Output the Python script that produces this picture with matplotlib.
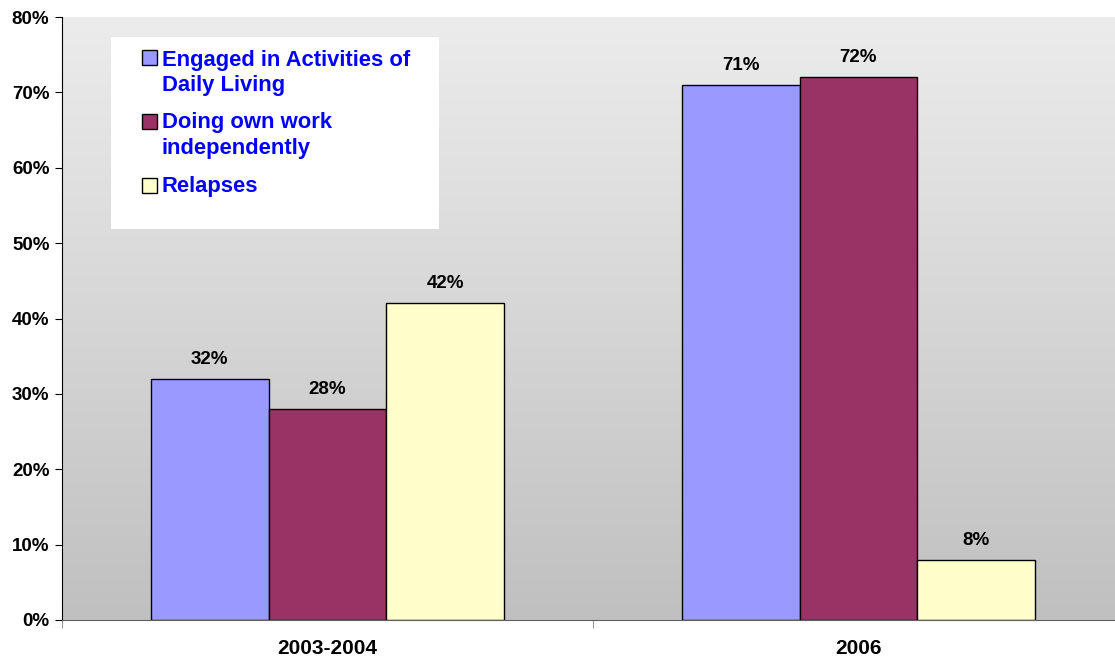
import matplotlib.pyplot as plt
import numpy as np
from matplotlib.colors import LinearSegmentedColormap
from matplotlib.patches import Rectangle

categories = ["2003-2004", "2006"]
series_names = ["Engaged in Activities of\nDaily Living",
                "Doing own work\nindependently",
                "Relapses"]
engaged = [32, 71]
own_work = [28, 72]
relapses = [42, 8]
colors = ["#9999FF", "#993366", "#FFFFCC"]
yticks = [0, 10, 20, 30, 40, 50, 60, 70, 80]

plt.rcParams['font.family'] = ['Liberation Sans', 'DejaVu Sans']

W, H = 1115, 661
fig = plt.figure(figsize=(W / 100, H / 100), dpi=100)
# the plot area runs a little past the right edge of the picture
ax = fig.add_axes([62 / W, 41 / H, (1124 - 62) / W, (620 - 17) / H])

# gradient background
grad = np.linspace(0, 1, 256).reshape(-1, 1)
cmap = LinearSegmentedColormap.from_list('bg', ['#c0c0c0', '#ececec'])
ax.imshow(grad, extent=[-0.5, 1.5, 0, 80], aspect='auto', cmap=cmap, origin='lower', zorder=0)

x = np.arange(len(categories))
width = 0.222
for i, (vals, col) in enumerate(zip([engaged, own_work, relapses], colors)):
    pos = x + (i - 1) * width
    bars = ax.bar(pos, vals, width=width, color=col, edgecolor='black', linewidth=1, zorder=2)
    for b, v in zip(bars, vals):
        ax.annotate(f"{v}%", (b.get_x() + b.get_width() / 2, v), xytext=(0, 8),
                    textcoords='offset points', ha='center', va='bottom',
                    fontsize=13.5, fontweight='bold')

ax.set_xlim(-0.5, 1.5)
ax.set_ylim(0, 80)
ax.set_yticks(yticks)
ax.set_yticklabels([f"{t}%" for t in yticks], fontsize=13.5, fontweight='bold')
ax.set_xticks(x)
ax.set_xticklabels(categories, fontsize=15, fontweight='bold')
ax.tick_params(axis='x', which='major', length=0, pad=14)
ax.set_xticks([-0.5, 0.5, 1.5], minor=True)
ax.tick_params(axis='x', which='minor', length=6, color='#808080')
ax.tick_params(axis='y', length=5, pad=4)
for s in ['top', 'right']:
    ax.spines[s].set_visible(False)
ax.spines['left'].set_color('black')
ax.spines['bottom'].set_color('#606060')


# legend box, drawn by hand so the swatch sits beside the first line
def fy(y):
    return 1 - y / H


fig.patches.append(Rectangle((111 / W, fy(229)), (439 - 111) / W, (229 - 37) / H,
                             transform=fig.transFigure, facecolor='white', edgecolor='none', zorder=5))
sq_tops = [50, 114, 178]
baselines = [66, 128, 192]
for name, col, st, bl in zip(series_names, colors, sq_tops, baselines):
    fig.patches.append(Rectangle((142 / W, fy(st + 15)), 15 / W, 15 / H, transform=fig.transFigure,
                                 facecolor=col, edgecolor='black', linewidth=1, zorder=6))
    for k, line in enumerate(name.split("\n")):
        fig.text(162 / W, fy(bl + 25.5 * k), line, color='#0000FF', fontsize=15.8,
                 fontweight='bold', va='baseline', ha='left', zorder=7)

fig.savefig('out.png', dpi=100)
